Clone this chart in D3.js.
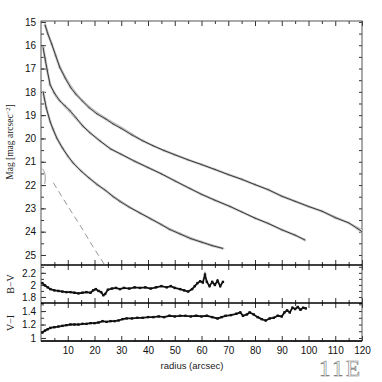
<!DOCTYPE html>
<html>
<head>
<meta charset="utf-8">
<script src="https://cdn.jsdelivr.net/npm/d3@7"></script>
<style>
  body { margin: 0; background: #fff; }
  svg text { font-family: "Liberation Sans", Arial, sans-serif; }
  .serif { font-family: "Liberation Serif", "Times New Roman", serif !important; }
</style>
</head>
<body>
<div id="chart"></div>
<script>
// surface brightness profiles: [radius, mag]
const profileA = [[1.5,15.13],[2.5,15.5],[4,15.95],[5.5,16.45],[7,16.95],[9,17.4],[11,17.8],[13,18.1],[15.5,18.4],[18,18.68],[21,18.95],[24,19.15],[27,19.38],[30,19.57],[34,19.85],[38,20.1],[42,20.32],[46,20.52],[50,20.7],[55,20.92],[60,21.12],[65,21.33],[70,21.55],[75,21.75],[80,21.98],[85,22.2],[90,22.48],[95,22.7],[100,22.92],[105,23.12],[110,23.4],[115,23.62],[118.5,23.88],[120,24.0]];
const profileB = [[0.8,16.1],[1.5,16.55],[2.3,17.05],[3.4,17.7],[5,18.05],[7,18.38],[9,18.6],[10.8,18.8],[13,19.1],[15.7,19.47],[18.3,19.75],[22,20.1],[26,20.45],[30,20.68],[35,20.98],[40,21.25],[45,21.52],[50,21.82],[55.7,22.15],[60,22.4],[65,22.65],[70.7,22.92],[75,23.15],[80,23.42],[85,23.65],[90,23.92],[95,24.15],[98.7,24.36]];
const profileC = [[0.8,18.0],[2,18.7],[3.5,19.3],[4.5,19.6],[6,20.0],[8,20.4],[10,20.75],[12,21.05],[15,21.4],[18,21.7],[21,21.98],[24,22.22],[27,22.5],[29.5,22.7],[33,22.95],[37,23.2],[41,23.45],[45,23.7],[48,23.9],[52,24.1],[56,24.3],[60,24.45],[64,24.6],[68,24.72]];
// thin model curves
const modelA = [[1.5,15.05],[4,15.9],[7,16.85],[10,17.5],[14,18.15],[18,18.6],[24,19.1],[30,19.5],[40,20.2],[50,20.68],[60,21.12],[70,21.55],[80,21.98],[90,22.45],[100,22.9],[110,23.35],[120,23.9]];
const modelB = [[0.8,16.2],[2,17.0],[3.4,17.6],[5,18.1],[8,18.55],[12,19.05],[16,19.55],[20,19.95],[26,20.42],[35,20.95],[45,21.5],[55,22.1],[65,22.63],[75,23.15],[85,23.65],[98.7,24.33]];
const modelC = [[0.8,18.1],[2,18.75],[4,19.5],[6,20.05],[9,20.6],[12,21.05],[16,21.5],[21,21.95],[27,22.45],[33,22.92],[41,23.42],[48,23.85],[56,24.25],[68,24.7]];
const psfDash = [[4.6,21.9],[10,22.9],[15,23.8],[20,24.75],[22,25.1],[24.5,25.55]];
const psfHook = [[0.6,21.3],[1.8,21.55],[1.4,21.95]];
// colour profiles: [radius, colour]
const colorBV = [[0.5,2.03],[1.5,1.99],[2.5,1.96],[3.5,1.93],[5,1.91],[6.5,1.9],[8,1.89],[9.5,1.88],[11,1.88],[12.5,1.87],[14,1.86],[15.5,1.87],[17,1.88],[18.5,1.87],[19.5,1.91],[20.5,1.93],[21.5,1.9],[22.5,1.88],[23.3,1.83],[24,1.85],[25,1.92],[26.5,1.94],[28,1.95],[29.5,1.93],[31,1.95],[33,1.94],[35,1.96],[37,1.95],[39,1.96],[41,1.94],[43,1.96],[45,1.98],[47,1.96],[48.5,1.98],[50,1.95],[52,1.93],[53.5,1.91],[55,1.89],[56.5,1.93],[57.5,1.98],[58.5,2.03],[59.5,2.06],[60.5,2.04],[61.3,2.17],[62,2.05],[63,1.98],[64,2.05],[65,2.0],[66,2.07],[67,1.98],[68,2.05]];
const colorVI = [[0.5,1.08],[1.5,1.11],[2.5,1.13],[3.5,1.15],[5,1.16],[6.5,1.17],[8,1.18],[9.5,1.19],[11,1.2],[12.5,1.2],[14,1.2],[15.5,1.21],[17,1.21],[18.5,1.22],[20,1.22],[21.5,1.23],[23,1.25],[24.5,1.24],[26,1.25],[27.5,1.25],[29,1.26],[30.5,1.28],[32,1.29],[34,1.29],[36,1.3],[38,1.3],[40,1.31],[42,1.31],[44,1.32],[46,1.31],[48,1.33],[50,1.32],[52,1.33],[54,1.33],[56,1.32],[58,1.33],[60,1.32],[62,1.33],[64,1.31],[66,1.29],[67.5,1.31],[69,1.33],[71,1.34],[73,1.36],[74.5,1.38],[75.5,1.33],[77,1.35],[78,1.38],[79.5,1.35],[81,1.31],[82.5,1.28],[84,1.26],[85.5,1.29],[87,1.3],[88.5,1.33],[90,1.32],[91,1.38],[92,1.41],[93,1.38],[94,1.45],[95,1.43],[96,1.46],[97,1.42],[98,1.45],[99,1.44]];

const xTicks = [10,20,30,40,50,60,70,80,90,100,110,120];
const magTicks = [15,16,17,18,19,20,21,22,23,24,25];
const bvTicks = [1.8,2,2.2];
const viTicks = [1,1.2,1.4];

const W = 382, H = 382;
const left = 41, right = 362;
const svg = d3.select('#chart').append('svg').attr('width', W).attr('height', H);

const x = d3.scaleLinear().domain([0,120]).range([left,right]);
const yMag = d3.scaleLinear().domain([14.96,25.43]).range([21,265]);
const yBV = d3.scaleLinear().domain([2.33,1.7]).range([265,303]);
const yVI = d3.scaleLinear().domain([1.52,0.955]).range([303,341]);

const panels = [
  {id:'main', y:yMag, top:21, bottom:265, major:magTicks, minor:d3.range(15,25.5,0.5)},
  {id:'bv', y:yBV, top:265, bottom:303, major:bvTicks, minor:d3.range(1.7,2.31,0.1)},
  {id:'vi', y:yVI, top:303, bottom:341, major:viTicks, minor:d3.range(1.0,1.51,0.1)}
];

const defs = svg.append('defs');
panels.forEach(p => {
  defs.append('clipPath').attr('id','clip-'+p.id)
    .append('rect').attr('x',left).attr('y',p.top).attr('width',right-left).attr('height',p.bottom-p.top);
});

function hideDomain(g){ g.select('.domain').remove(); g.selectAll('line').attr('stroke','#333'); }

// axes and ticks
panels.forEach((p,i) => {
  const minorX = d3.range(5,120,10);
  // top ticks (inward)
  svg.append('g').attr('transform',`translate(0,${p.top})`)
    .call(d3.axisBottom(x).tickValues(xTicks).tickSize(5).tickFormat(''))
    .call(hideDomain);
  svg.append('g').attr('transform',`translate(0,${p.top})`)
    .call(d3.axisBottom(x).tickValues(minorX).tickSize(3).tickFormat(''))
    .call(hideDomain);
  // bottom ticks (inward)
  const last = i === panels.length - 1;
  svg.append('g').attr('class','xaxis').attr('transform',`translate(0,${p.bottom})`)
    .call(d3.axisBottom(x).tickValues(xTicks).tickSize(-5).tickPadding(6).tickFormat(last ? d3.format('d') : ''))
    .call(hideDomain);
  svg.append('g').attr('transform',`translate(0,${p.bottom})`)
    .call(d3.axisBottom(x).tickValues(minorX).tickSize(-3).tickFormat(''))
    .call(hideDomain);
  // left ticks with labels
  svg.append('g').attr('class','yaxis').attr('transform',`translate(${left},0)`)
    .call(d3.axisLeft(p.y).tickValues(p.major).tickSize(-5).tickPadding(5).tickFormat(d3.format('~g')))
    .call(hideDomain);
  svg.append('g').attr('transform',`translate(${left},0)`)
    .call(d3.axisLeft(p.y).tickValues(p.minor).tickSize(-3).tickFormat(''))
    .call(hideDomain);
  // right ticks
  svg.append('g').attr('transform',`translate(${right},0)`)
    .call(d3.axisLeft(p.y).tickValues(p.minor).tickSize(3).tickFormat(''))
    .call(hideDomain);
});

svg.selectAll('.xaxis text, .yaxis text')
  .attr('font-size', 10).attr('fill','#111').attr('font-family','Liberation Sans, Arial, sans-serif');

// frames
svg.append('rect').attr('x',left).attr('y',21).attr('width',right-left).attr('height',341-21)
  .attr('fill','none').attr('stroke','#555').attr('stroke-width',1);
[265,303,341].forEach(yy => {
  svg.append('line').attr('x1',left).attr('x2',right).attr('y1',yy).attr('y2',yy)
    .attr('stroke','#000').attr('stroke-width',1.3);
});

// profiles
const main = svg.append('g').attr('clip-path','url(#clip-main)');
const magLine = d3.line().x(d => x(d[0])).y(d => yMag(d[1]));
const smooth = d3.line().x(d => x(d[0])).y(d => yMag(d[1])).curve(d3.curveMonotoneX);

[profileA, profileB, profileC].forEach(prof => {
  main.append('path').attr('d', magLine(prof)).attr('fill','none')
    .attr('stroke','#d0d0d0').attr('stroke-width',2.6);
});
[modelA, modelB, modelC].forEach(m => {
  main.append('path').attr('d', smooth(m)).attr('fill','none')
    .attr('stroke','#999').attr('stroke-width',0.6);
});
[profileA, profileB, profileC].forEach(prof => {
  main.selectAll(null).data(prof).enter().append('path')
    .attr('d', d => `M${x(d[0])-1.5},${yMag(d[1])}h3M${x(d[0])},${yMag(d[1])-1.5}v3`)
    .attr('stroke','#aaa').attr('stroke-width',0.7);
  main.append('path').attr('d', magLine(prof)).attr('fill','none')
    .attr('stroke','#2a2a2a').attr('stroke-width',0.9);
});
main.append('path').attr('d', magLine(psfDash)).attr('fill','none')
  .attr('stroke','#8a8a8a').attr('stroke-width',0.9).attr('stroke-dasharray','6,4');
main.append('path').attr('d', d3.line().x(d => x(d[0])).y(d => yMag(d[1])).curve(d3.curveBasis)(psfHook))
  .attr('fill','none').attr('stroke','#8a8a8a').attr('stroke-width',0.9);

// colour profiles
function drawColour(data, y, id) {
  const g = svg.append('g').attr('clip-path',`url(#clip-${id})`);
  const ln = d3.line().x(d => x(d[0])).y(d => y(d[1]));
  g.append('path').attr('d', ln(data)).attr('fill','none').attr('stroke','#111').attr('stroke-width',1.8);
  g.selectAll(null).data(data).enter().append('rect')
    .attr('x', d => x(d[0]) - 1.2).attr('y', d => y(d[1]) - 1.2)
    .attr('width',2.4).attr('height',2.4).attr('fill','#111');
}
drawColour(colorBV, yBV, 'bv');
drawColour(colorVI, yVI, 'vi');

// titles
const ylab = svg.append('text').attr('class','serif')
  .attr('transform','translate(13,142) rotate(-90)').attr('text-anchor','middle')
  .attr('font-size',9.5).attr('fill','#222');
ylab.append('tspan').text('Mag [mag arcsec');
ylab.append('tspan').attr('baseline-shift','super').attr('font-size',6.5).text('−2');
ylab.append('tspan').text(']');

svg.append('text').attr('class','serif').attr('transform','translate(14,284) rotate(-90)')
  .attr('text-anchor','middle').attr('font-size',10).attr('fill','#222').text('B−V');
svg.append('text').attr('class','serif').attr('transform','translate(14,323) rotate(-90)')
  .attr('text-anchor','middle').attr('font-size',10).attr('fill','#222').text('V−I');

svg.append('text').attr('x',192).attr('y',369).attr('text-anchor','middle')
  .attr('font-size',9.5).attr('fill','#222').text('radius (arcsec)');

svg.append('text').attr('class','serif').attr('x',319).attr('y',376)
  .attr('font-size',23).attr('fill','#fff').attr('stroke','#777').attr('stroke-width',0.6)
  .attr('textLength',41).text('11E');
</script>
</body>
</html>
